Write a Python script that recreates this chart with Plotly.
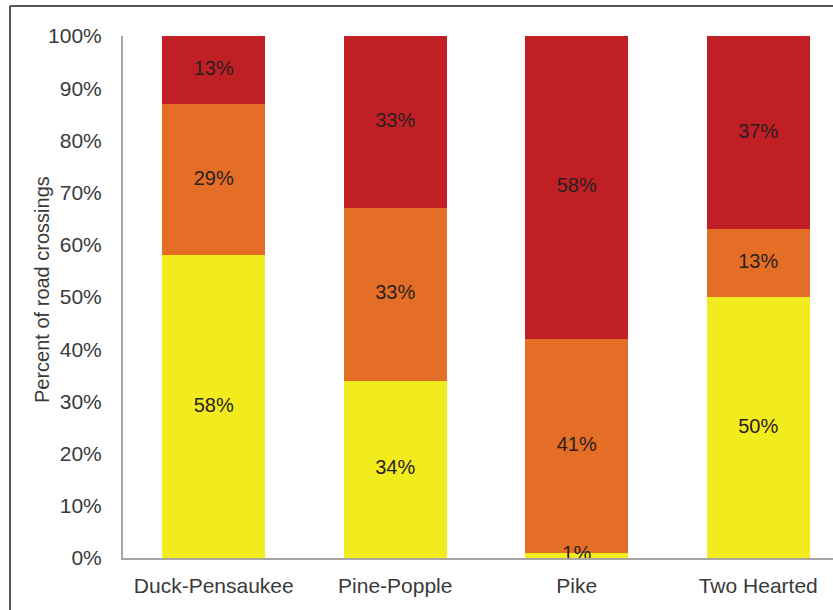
import plotly.graph_objects as go

categories = ["Duck-Pensaukee", "Pine-Popple", "Pike", "Two Hearted"]
low_vals = [58, 34, 1, 50]
mid_vals = [29, 33, 41, 13]
high_vals = [13, 33, 58, 37]
y_ticks = [0, 10, 20, 30, 40, 50, 60, 70, 80, 90, 100]
y_tick_labels = [f"{v}%" for v in y_ticks]
y_title = "Percent of road crossings"

colors = ["#F2EC1E", "#E46E25", "#C01F26"]
series = [low_vals, mid_vals, high_vals]
FONT = "Liberation Sans, Arial, sans-serif"

fig = go.Figure()
for vals, col in zip(series, colors):
    fig.add_trace(go.Bar(
        x=categories, y=vals,
        marker=dict(color=col, line=dict(width=0)),
        showlegend=False, hoverinfo="skip",
    ))

# segment labels drawn on top of all bars, at each segment's middle
base = [0] * len(categories)
for vals in series:
    mids = [b + v / 2 for b, v in zip(base, vals)]
    fig.add_trace(go.Scatter(
        x=categories, y=mids, mode="text",
        text=[f"{v}%" for v in vals],
        textposition="middle center",
        textfont=dict(family=FONT, size=20, color="#2b2020"),
        cliponaxis=False, showlegend=False, hoverinfo="skip",
    ))
    base = [b + v for b, v in zip(base, vals)]

W, H = 833, 610
L, R, T, B = 123, 0, 36, 52
pw, ph = W - L - R, H - T - B

def px_x(x):
    return (x - L) / pw

def px_y(y):
    return (H - B - y) / ph

fig.update_layout(
    barmode="stack",
    bargap=0.433,
    width=W, height=H,
    margin=dict(l=L, r=R, t=T, b=B),
    paper_bgcolor="white", plot_bgcolor="white",
    font=dict(family=FONT, color="#404040"),
    xaxis=dict(
        range=[-0.5, 3.412],
        showline=True, linecolor="#A8A4A4", linewidth=2,
        showgrid=False, ticks="",
        tickfont=dict(size=21, color="#3a3a3a"),
        ticklabelstandoff=8,
    ),
    yaxis=dict(
        range=[0, 100],
        tickvals=y_ticks, ticktext=y_tick_labels,
        showline=True, linecolor="#A8A4A4", linewidth=2,
        showgrid=False, ticks="",
        tickfont=dict(size=21, color="#3a3a3a"),
        ticklabelstandoff=15,
    ),
    annotations=[
        dict(text=y_title, textangle=-90, xref="paper", yref="paper",
             x=px_x(42), y=px_y(290), xanchor="center", yanchor="middle",
             showarrow=False, font=dict(family=FONT, size=20, color="#3a3a3a")),
    ],
    shapes=[
        dict(type="line", xref="paper", yref="paper",
             x0=px_x(10), x1=px_x(10), y0=px_y(6), y1=px_y(615),
             line=dict(color="#555555", width=2)),
        dict(type="line", xref="paper", yref="paper",
             x0=px_x(10), x1=px_x(840), y0=px_y(6), y1=px_y(6),
             line=dict(color="#555555", width=2)),
    ],
)

fig.write_html("out.html",
               config={"displayModeBar": False},
               post_script="document.body.style.margin='0';document.body.style.overflow='hidden';")
